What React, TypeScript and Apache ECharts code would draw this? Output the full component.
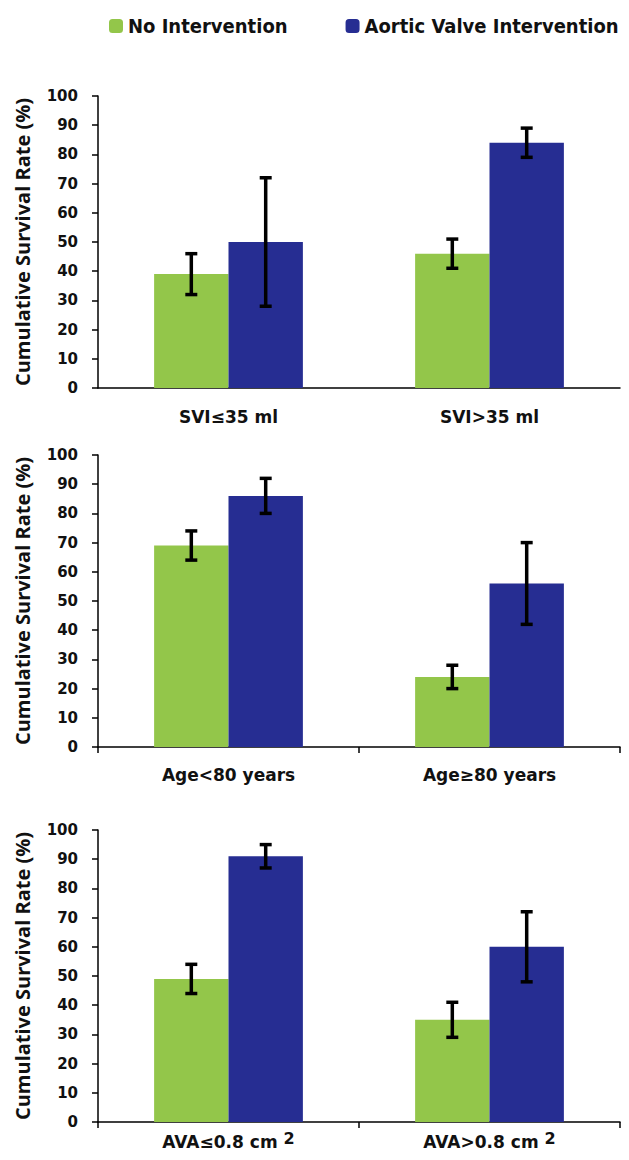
import React, { useEffect, useRef } from "react";
import * as echarts from "echarts";

const seriesNames = ["No Intervention", "Aortic Valve Intervention"];
const colors = ["#93C64A", "#262D92"];
const yTicks = [0, 100, 10];

const cats1 = ["SVI≤35 ml", "SVI>35 ml"];
const noInt1 = [39, 46];
const noIntLow1 = [32, 41];
const noIntHigh1 = [46, 51];
const avi1 = [50, 84];
const aviLow1 = [28, 79];
const aviHigh1 = [72, 89];

const cats2 = ["Age<80 years", "Age≥80 years"];
const noInt2 = [69, 24];
const noIntLow2 = [64, 20];
const noIntHigh2 = [74, 28];
const avi2 = [86, 56];
const aviLow2 = [80, 42];
const aviHigh2 = [92, 70];

const cats3 = ["AVA≤0.8 cm²", "AVA>0.8 cm²"];
const noInt3 = [49, 35];
const noIntLow3 = [44, 29];
const noIntHigh3 = [54, 41];
const avi3 = [91, 60];
const aviLow3 = [87, 48];
const aviHigh3 = [95, 72];

const panels = [
  { cats: cats1, vals: [noInt1, avi1], lows: [noIntLow1, aviLow1], highs: [noIntHigh1, aviHigh1] },
  { cats: cats2, vals: [noInt2, avi2], lows: [noIntLow2, aviLow2], highs: [noIntHigh2, aviHigh2] },
  { cats: cats3, vals: [noInt3, avi3], lows: [noIntLow3, aviLow3], highs: [noIntHigh3, aviHigh3] },
];

const CAT_GAP = 0.43;

export default function App() {
  const ref = useRef<HTMLDivElement>(null);
  useEffect(() => {
    if (!ref.current) return;
    const chart = echarts.init(ref.current, null, { renderer: "svg" });
    const gridTops = [96, 455, 830];
    const labelMargins = [20, 19, 8];
    const grids = gridTops.map((t) => ({ left: 98, right: 9, top: t, height: 292 }));
    const xAxes = panels.map((p, i) => ({
      type: "category",
      gridIndex: i,
      data: p.cats,
      axisLine: { lineStyle: { color: "#000", width: 1.5 } },
      axisTick: { show: i > 0, length: 6, lineStyle: { color: "#000", width: 1.5 } },
      axisLabel: {
        color: "#111",
        fontFamily: "DejaVu Sans",
        fontWeight: "bold",
        fontSize: 17,
        margin: labelMargins[i],
        formatter: (v: string) => (v.endsWith("²") ? v.slice(0, -1) + " {sup|2}" : v),
        rich: {
          sup: { fontFamily: "DejaVu Sans", fontWeight: "bold", fontSize: 16, color: "#111", padding: [0, 0, 8, 0] },
        },
      },
    }));
    const yAxes = panels.map((p, i) => ({
      type: "value",
      gridIndex: i,
      min: yTicks[0],
      max: yTicks[1],
      interval: yTicks[2],
      name: "Cumulative Survival Rate (%)",
      nameLocation: "middle",
      nameGap: 66,
      nameTextStyle: { color: "#111", fontFamily: "Open Sans", fontWeight: "bold", fontSize: 20 },
      splitLine: { show: false },
      axisLine: { show: true, lineStyle: { color: "#000", width: 1.5 } },
      axisTick: { show: true, length: 6, lineStyle: { color: "#000", width: 1.5 } },
      axisLabel: { color: "#111", fontFamily: "DejaVu Sans", fontWeight: "bold", fontSize: 15, margin: 20 },
    }));
    const series: any[] = [];
    panels.forEach((p, i) => {
      [0, 1].forEach((s) => {
        series.push({
          type: "bar",
          name: seriesNames[s],
          xAxisIndex: i,
          yAxisIndex: i,
          data: p.vals[s],
          barGap: "0%",
          barCategoryGap: CAT_GAP * 100 + "%",
          itemStyle: { color: colors[s] },
        });
      });
      const errData: number[][] = [];
      [0, 1].forEach((s) => {
        p.cats.forEach((_, c) => errData.push([c, p.lows[s][c], p.highs[s][c], s]));
      });
      series.push({
        type: "custom",
        xAxisIndex: i,
        yAxisIndex: i,
        z: 10,
        data: errData,
        renderItem: (params: any, api: any) => {
          const c = api.value(0);
          const lo = api.value(1);
          const hi = api.value(2);
          const s = api.value(3);
          const band = api.size([1, 0])[0];
          const bw = (band * (1 - CAT_GAP)) / 2;
          const pLo = api.coord([c, lo]);
          const pHi = api.coord([c, hi]);
          const x = pLo[0] + (s === 0 ? -bw / 2 : bw / 2);
          const cap = 6;
          const st = { stroke: "#000", lineWidth: 3.5 };
          return {
            type: "group",
            children: [
              { type: "line", shape: { x1: x, y1: pLo[1], x2: x, y2: pHi[1] }, style: st },
              { type: "line", shape: { x1: x - cap, y1: pLo[1], x2: x + cap, y2: pLo[1] }, style: st },
              { type: "line", shape: { x1: x - cap, y1: pHi[1], x2: x + cap, y2: pHi[1] }, style: st },
            ],
          };
        },
      });
    });
    chart.setOption({
      animation: false,
      backgroundColor: "#fff",
      legend: {
        data: seriesNames,
        top: 11,
        left: 104,
        itemWidth: 14,
        itemHeight: 14,
        itemGap: 58,
        textStyle: { color: "#111", fontFamily: "DejaVu Sans Condensed", fontWeight: "bold", fontSize: 20 },
      },
      grid: grids,
      xAxis: xAxes,
      yAxis: yAxes,
      series,
    });
    return () => chart.dispose();
  }, []);
  return <div ref={ref} style={{ position: "absolute", left: 0, top: 0, width: 629, height: 1160 }} />;
}
